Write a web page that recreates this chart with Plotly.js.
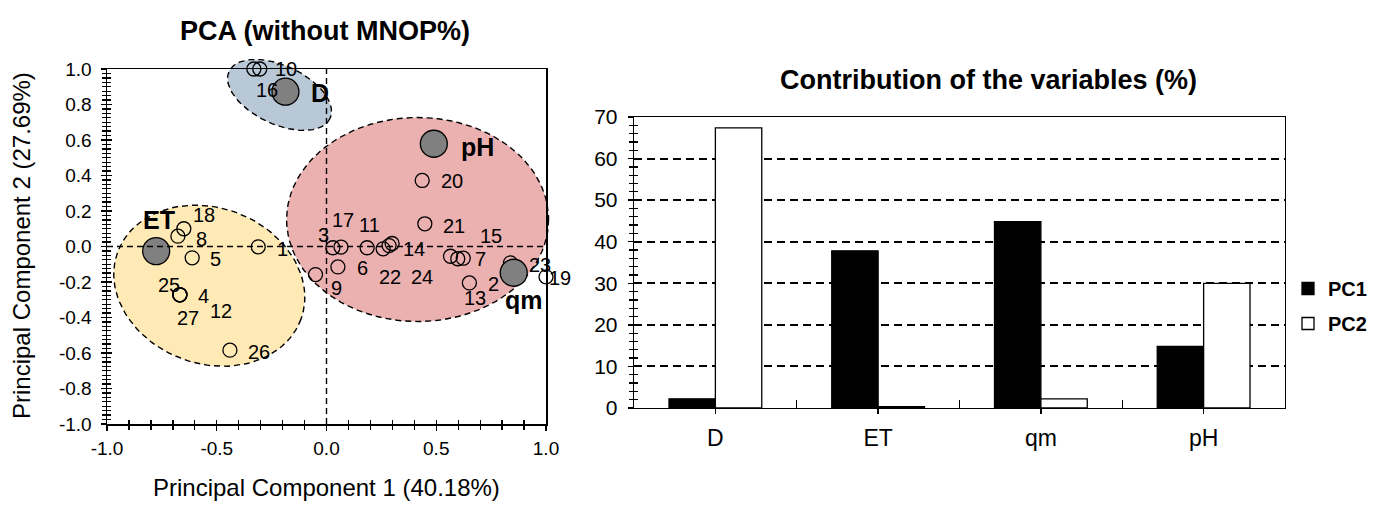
<!DOCTYPE html>
<html><head><meta charset="utf-8">
<script src="https://cdn.plot.ly/plotly-3.0.1.min.js"></script>
<style>html,body{margin:0;padding:0;background:#fff}#chart{width:1376px;height:505px}</style>
</head><body><div id="chart"></div>
<script>
// ---------- DATA ----------
// PCA scores of the samples (PC1, PC2)
const pointLabels = ['1','2','3','4','5','6','7','8','9','10','11','12','13','14','15','16','17','18','19','20','21','22','23','24','25','26','27'];
const pointPC1 = [-0.311, 0.565, 0.029, -0.668, -0.612, 0.052, 0.623, -0.677, -0.050, -0.304, 0.185, -0.668, 0.651, 0.299, 0.598, -0.331, 0.066, -0.650, 1.000, 0.436, 0.448, 0.258, 0.838, 0.285, -0.668, -0.440, -0.668];
const pointPC2 = [-0.002, -0.055, -0.007, -0.272, -0.064, -0.115, -0.066, 0.058, -0.158, 1.000, -0.007, -0.272, -0.205, 0.017, -0.069, 1.000, -0.003, 0.100, -0.171, 0.372, 0.128, -0.013, -0.092, 0.005, -0.272, -0.584, -0.272];
// label offsets from the point, screen pixels (right, down)
const labelDx = [24, 43, -9, 24, 23, 25, 17, 24, 21, 26, 2, 41, 6, 22, 33, 13, 2, 20, 14, 30, 29, 7, 30, 33, -11, 29, 8];
const labelDy = [2, 28, -13, 1, 1, 1, 1, 3, 13, 0, -23, 16, 15, 6, -23, 21, -27, -14, 1, 1, 2, 28, 2, 31, -10, 2, 23];

// Variables (loadings)
const varNames = ['ET', 'D', 'pH', 'qm'];
const varPC1 = [-0.776, -0.187, 0.489, 0.853];
const varPC2 = [-0.026, 0.872, 0.579, -0.148];
const varLabelDx = [3, 35, 44, 10];
const varLabelDy = [-31, 1, 3, 27];

// Group ellipses: centre (data units), semi-axes (pixels), tilt (degrees, screen), colour
const ellipseCX = [-0.534, 0.415, -0.214];
const ellipseCY = [-0.221, 0.152, 0.854];
const ellipseA = [97.6, 131, 55.7];
const ellipseB = [78, 102, 29.3];
const ellipseTilt = [20, 0, 25];
const ellipseColor = ['#FFE9B4', '#EBB0B0', '#B9C8D7'];

// Contribution of the variables (%)
const categories = ['D', 'ET', 'qm', 'pH'];
const contribPC1 = [2.2, 37.8, 44.8, 14.8];
const contribPC2 = [67.4, 0.3, 2.2, 30.0];

const xTickVals = [-1, -0.5, 0, 0.5, 1];
const yTickVals = [-1, -0.8, -0.6, -0.4, -0.2, 0, 0.2, 0.4, 0.6, 0.8, 1];

// ---------- GEOMETRY ----------
const W = 1376, H = 505;
const FONT = 'Arial, "Liberation Sans", sans-serif';
const L = 107, R = 546, T = 69, B = 424, PAD = 30;
const sx = (R - L) / 2, sy = (B - T) / 2;
const BL = 634, BR = 1285, BT = 117, BB = 408;

function ellipse(cx, cy, a, b, tilt) {
  const th = tilt * Math.PI / 180, xs = [], ys = [];
  for (let i = 0; i <= 120; i++) {
    const t = 2 * Math.PI * i / 120;
    const px = a * Math.cos(t), py = b * Math.sin(t);
    const rx = px * Math.cos(th) - py * Math.sin(th);
    const ry = px * Math.sin(th) + py * Math.cos(th);
    xs.push(cx + rx / sx); ys.push(cy - ry / sy);
  }
  return {xs, ys};
}

const traces = [];
for (let i = 0; i < ellipseCX.length; i++) {
  const e = ellipse(ellipseCX[i], ellipseCY[i], ellipseA[i], ellipseB[i], ellipseTilt[i]);
  traces.push({type: 'scatter', mode: 'lines', x: e.xs, y: e.ys, fill: 'toself', fillcolor: ellipseColor[i],
    line: {color: 'black', width: 1.4, dash: '6px,4px'}, xaxis: 'x', yaxis: 'y', hoverinfo: 'skip', showlegend: false});
}
traces.push({type: 'scatter', mode: 'markers', x: pointPC1, y: pointPC2, text: pointLabels, xaxis: 'x', yaxis: 'y',
  marker: {size: 14, color: 'rgba(0,0,0,0)', line: {color: 'black', width: 1.3}}, showlegend: false, cliponaxis: false});
traces.push({type: 'scatter', mode: 'markers', x: varPC1, y: varPC2, text: varNames, xaxis: 'x', yaxis: 'y',
  marker: {size: 27, color: '#808080', line: {color: 'black', width: 1.3}}, showlegend: false, cliponaxis: false});
traces.push({type: 'scatter', x: [], y: [], xaxis: 'x3', yaxis: 'y3', showlegend: false});
traces.push({type: 'scatter', x: [], y: [], xaxis: 'x4', yaxis: 'y4', showlegend: false});
traces.push({type: 'bar', name: 'PC1', legendgroup: 'a', x: categories, y: contribPC1, xaxis: 'x2', yaxis: 'y2',
  marker: {color: 'black', line: {color: 'black', width: 1.3}}});
traces.push({type: 'bar', name: 'PC2', legendgroup: 'b', x: categories, y: contribPC2, xaxis: 'x2', yaxis: 'y2',
  marker: {color: 'white', line: {color: 'black', width: 1.3}}});
traces.push({type: 'scatter', x: [], y: [], xaxis: 'x5', yaxis: 'y5', showlegend: false});

const annotations = [];
pointLabels.forEach((lab, i) => annotations.push({xref: 'x', yref: 'y', x: pointPC1[i], y: pointPC2[i], text: lab,
  xanchor: 'center', yanchor: 'middle', showarrow: false, xshift: labelDx[i], yshift: -labelDy[i], font: {size: 20, color: 'black', family: FONT}}));
varNames.forEach((lab, i) => annotations.push({xref: 'x', yref: 'y', x: varPC1[i], y: varPC2[i], text: '<b>' + lab + '</b>',
  xanchor: 'center', yanchor: 'middle', showarrow: false, xshift: varLabelDx[i], yshift: -varLabelDy[i], font: {size: 25, color: 'black', family: FONT}}));
function paperText(text, px, py, size, angle) {
  return {xref: 'paper', yref: 'paper', x: px / W, y: 1 - py / H, xanchor: 'center', yanchor: 'middle', text: text,
    textangle: angle || 0, showarrow: false, font: {size: size, family: FONT, color: 'black'}};
}
annotations.push(paperText('<b>PCA (without MNOP%)</b>', 325, 31, 27));
annotations.push(paperText('<b>Contribution of the variables (%)</b>', 988, 80, 27));
annotations.push(paperText('Principal Component 1 (40.18%)', 326, 487, 24));
annotations.push(paperText('Principal Component 2 (27.69%)', 21, 246, 24, -90));

const tickFont = {size: 19, family: FONT, color: 'black'};
const frameX = [L / W, R / W], frameY = [1 - B / H, 1 - T / H];
const layout = {
  width: W, height: H, margin: {l: 0, r: 0, t: 0, b: 0}, paper_bgcolor: 'white', plot_bgcolor: 'rgba(0,0,0,0)',
  font: {family: FONT, color: 'black'}, showlegend: true, barmode: 'group', bargap: 0.43, bargroupgap: 0,
  xaxis: {domain: [(L - PAD) / W, (R + PAD) / W], range: [-1 - PAD / sx, 1 + PAD / sx], visible: false, fixedrange: true},
  yaxis: {domain: [1 - (B + PAD) / H, 1 - (T - PAD) / H], range: [-1 - PAD / sy, 1 + PAD / sy], visible: false, fixedrange: true},
  xaxis3: {domain: frameX, range: [-1, 1], anchor: 'y3', tickmode: 'array', tickvals: xTickVals, ticktext: xTickVals.map(v => v.toFixed(1)),
    ticks: 'outside', ticklen: 5, tickwidth: 1.3, tickcolor: 'black', showline: true, mirror: true, linecolor: 'black', linewidth: 1.5,
    showgrid: false, zeroline: false, tickfont: tickFont, ticklabelstandoff: 2,
    minor: {dtick: 0.1, ticks: 'outside', ticklen: 4, tickwidth: 1.3, tickcolor: 'black'}},
  yaxis3: {domain: frameY, range: [-1, 1], anchor: 'x3', tickmode: 'array', tickvals: yTickVals, ticktext: yTickVals.map(v => v.toFixed(1)),
    ticks: 'outside', ticklen: 5, tickwidth: 1.3, tickcolor: 'black', showline: true, mirror: true, linecolor: 'black', linewidth: 1.5,
    showgrid: false, zeroline: false, tickfont: tickFont, ticklabelstandoff: 5,
    minor: {dtick: 0.025, ticks: 'outside', ticklen: 4, tickwidth: 1.3, tickcolor: 'black'}},
  xaxis4: {overlaying: 'x3', anchor: 'y4', range: [-1, 1], tickmode: 'linear', tick0: -1, dtick: 0.5, ticks: 'inside', ticklen: 4, tickwidth: 1.3, tickcolor: 'black',
    showticklabels: false, showgrid: false, zeroline: false, showline: false, minor: {dtick: 0.1, ticks: 'inside', ticklen: 4, tickwidth: 1.3, tickcolor: 'black'}},
  yaxis4: {overlaying: 'y3', anchor: 'x4', range: [-1, 1], tickmode: 'linear', tick0: -1, dtick: 0.2, ticks: 'inside', ticklen: 5, tickwidth: 1.3, tickcolor: 'black',
    showticklabels: false, showgrid: false, zeroline: false, showline: false, minor: {dtick: 0.025, ticks: 'inside', ticklen: 4, tickwidth: 1.3, tickcolor: 'black'}},
  xaxis2: {domain: [BL / W, BR / W], anchor: 'y2', type: 'category', range: [-0.5, 3.5], ticks: 'outside', ticklen: 5, tickwidth: 1.3, tickcolor: 'black',
    showline: true, mirror: true, linecolor: 'black', linewidth: 1.3, showgrid: false, zeroline: false, ticklabelstandoff: 4,
    tickfont: {size: 23, family: FONT, color: 'black'}},
  yaxis2: {domain: [1 - BB / H, 1 - BT / H], anchor: 'x2', range: [0, 70], dtick: 10, ticks: 'outside', ticklen: 5, tickwidth: 1.3, tickcolor: 'black',
    showline: true, mirror: true, linecolor: 'black', linewidth: 1.3, showgrid: true, gridcolor: 'black', gridwidth: 2, griddash: '8px,5px',
    zeroline: false, ticklabelstandoff: 6, tickfont: {size: 21, family: FONT, color: 'black'},
    minor: {dtick: 2, ticks: 'outside', ticklen: 4, tickwidth: 1.3, tickcolor: 'black'}},
  xaxis5: {overlaying: 'x2', anchor: 'y5', range: [-0.5, 3.5], tickmode: 'linear', tick0: -0.5, dtick: 1, ticks: 'inside', ticklen: 8, tickwidth: 1.3, tickcolor: 'black',
    showticklabels: false, showgrid: false, zeroline: false, showline: false},
  yaxis5: {overlaying: 'y2', anchor: 'x5', range: [0, 70], dtick: 10, ticks: 'inside', ticklen: 5, tickwidth: 1.3, tickcolor: 'black',
    showticklabels: false, showgrid: false, zeroline: false, showline: false, minor: {dtick: 2, ticks: 'inside', ticklen: 4, tickwidth: 1.3, tickcolor: 'black'}},
  shapes: [
    {type: 'line', xref: 'x3', yref: 'y3 domain', x0: 0, x1: 0, y0: 0, y1: 1, line: {color: 'black', width: 1.4, dash: '6px,4px'}},
    {type: 'line', xref: 'x3 domain', yref: 'y3', x0: 0, x1: 1, y0: 0, y1: 0, line: {color: 'black', width: 1.4, dash: '6px,4px'}}
  ],
  legend: {x: 1288 / W, y: 1 - 306 / H, xanchor: 'left', yanchor: 'middle', bgcolor: 'rgba(0,0,0,0)', itemwidth: 30,
    font: {size: 20, family: FONT, color: 'black', weight: 'bold'}, tracegroupgap: 6, traceorder: 'grouped'},
  annotations: annotations
};
Plotly.newPlot('chart', traces, layout, {staticPlot: true});
</script></body></html>
